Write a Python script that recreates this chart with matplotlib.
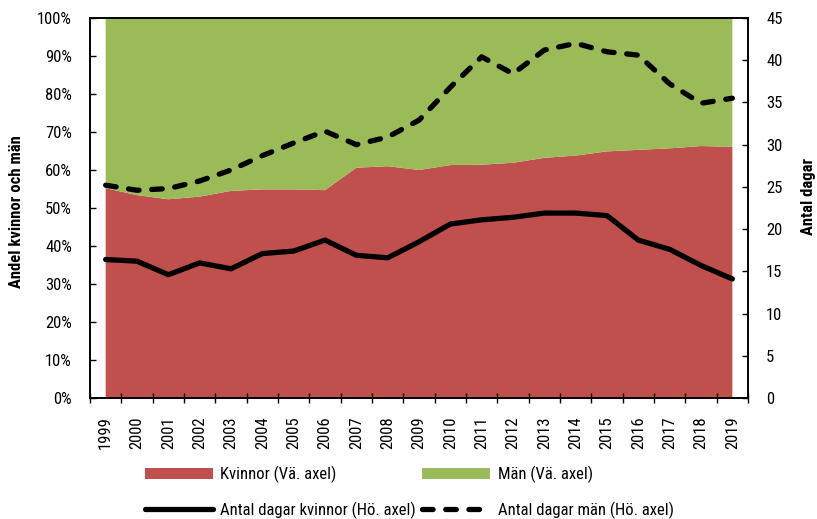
import matplotlib
matplotlib.use("Agg")
import matplotlib.pyplot as plt
import numpy as np
from matplotlib.patches import Patch
from matplotlib.lines import Line2D
from matplotlib.ticker import FuncFormatter, MultipleLocator
from matplotlib import font_manager as fm

# collect condensed families and their weights
fams = {}
for f in fm.fontManager.ttflist:
    if 'Narrow' in f.name or 'Condensed' in f.name:
        w = f.weight if isinstance(f.weight, int) else fm.weight_dict.get(str(f.weight), 400)
        fams.setdefault(f.name, set()).add(w)

def pick(min_w, max_w):
    pref = ['Liberation Sans Narrow', 'Arial Narrow', 'Roboto Condensed',
            'DejaVu Sans Condensed', 'Open Sans Condensed', 'Noto Sans Condensed']
    names = [p for p in pref if p in fams] + sorted(n for n in fams if n not in pref)
    for n in names:
        if any(min_w <= w <= max_w for w in fams[n]):
            return n
    return None

reg_font = pick(350, 500)
bold_font = pick(600, 900)

if reg_font:
    text_family = [reg_font, 'DejaVu Sans']
    fs = 12
else:
    text_family = ['DejaVu Sans']
    fs = 9.5
if bold_font:
    lab_family = [bold_font, 'DejaVu Sans']
    fs_lab = 12
else:
    lab_family = ['Liberation Sans', 'DejaVu Sans']
    fs_lab = 10
plt.rcParams['font.family'] = text_family

years = [str(y) for y in range(1999, 2020)]
andel_kvinnor = [55.2, 53.4, 52.3, 53.0, 54.5, 54.9, 54.9, 54.7, 60.6, 61.0, 60.0,
                 61.3, 61.4, 61.9, 63.2, 63.8, 64.9, 65.3, 65.7, 66.3, 66.1]
andel_man = [100 - v for v in andel_kvinnor]
dagar_kvinnor = [16.4, 16.2, 14.6, 16.0, 15.3, 17.1, 17.4, 18.7, 16.9, 16.6, 18.5,
                 20.6, 21.1, 21.4, 21.9, 21.9, 21.6, 18.7, 17.6, 15.7, 14.1]
dagar_man = [25.2, 24.6, 24.8, 25.7, 27.0, 28.7, 30.2, 31.6, 30.0, 30.9, 32.9,
             36.8, 40.4, 38.4, 41.2, 42.0, 41.0, 40.6, 37.2, 34.9, 35.5]

red = '#C0504D'
green = '#9BBB59'

fig = plt.figure(figsize=(8.17, 5.19), dpi=100)
ax = fig.add_axes([90/817, 1-398/519, (748-90)/817, (398-18)/519])
x = np.arange(len(years))

ax.stackplot(x, np.array(andel_kvinnor)/100, np.array(andel_man)/100,
             colors=[red, green], linewidth=0)
ax.set_xlim(-0.5, len(years)-0.5)
ax.set_ylim(0, 1)
ax.yaxis.set_major_locator(MultipleLocator(0.1))
ax.yaxis.set_major_formatter(FuncFormatter(lambda v, p: f"{v*100:.0f}%"))
ax.set_xticks(x)
ax.set_xticklabels(years, rotation=90)
ax.set_xticks(np.arange(-0.5, len(years)), minor=True)
ax.tick_params(axis='x', which='major', length=0, pad=13, labelsize=fs)
ax.tick_params(axis='x', which='minor', direction='inout', length=7.5, width=1)
ax.tick_params(axis='y', direction='in', length=4.5, width=1, pad=13, labelsize=fs)
ax.set_ylabel('Andel kvinnor och män', fontsize=fs_lab, fontweight='bold', family=lab_family)
ax.yaxis.set_label_coords(-0.100, 0.49)
for s in ax.spines.values():
    s.set_linewidth(1.2)

ax2 = ax.twinx()
ax2.plot(x, dagar_kvinnor, color='black', lw=3.8, solid_capstyle='round', solid_joinstyle='round')
ax2.plot(x, dagar_man, color='black', lw=3.8, linestyle=(0, (2.0, 2.4)),
         dash_capstyle='round', dash_joinstyle='round')
ax2.set_ylim(0, 45)
ax2.yaxis.set_major_locator(MultipleLocator(5))
ax2.tick_params(axis='y', direction='in', length=4.5, width=1, pad=13, labelsize=fs)
ax2.set_ylabel('Antal dagar', fontsize=fs_lab, fontweight='bold', family=lab_family)
ax2.yaxis.set_label_coords(1.081, 0.53)
for s in ax2.spines.values():
    s.set_linewidth(1.2)

handles = [Patch(facecolor=red, edgecolor='none'),
           Patch(facecolor=green, edgecolor='none'),
           Line2D([], [], color='black', lw=3.8, solid_capstyle='round'),
           Line2D([], [], color='black', lw=3.8, linestyle=(0, (2.0, 2.4)), dash_capstyle='round')]
labels = ['Kvinnor (Vä. axel)', 'Män (Vä. axel)',
          'Antal dagar kvinnor (Hö. axel)', 'Antal dagar män (Hö. axel)']
order = [0, 2, 1, 3]
fig.legend([handles[i] for i in order], [labels[i] for i in order],
           ncol=2, loc='upper left', bbox_to_anchor=(130/817, 1-451/519),
           frameon=False, fontsize=fs, handlelength=68/(fs*100/72), handleheight=0.6,
           handletextpad=0.45, columnspacing=0.35, labelspacing=1.1)

fig.savefig('out.png', dpi=100)
